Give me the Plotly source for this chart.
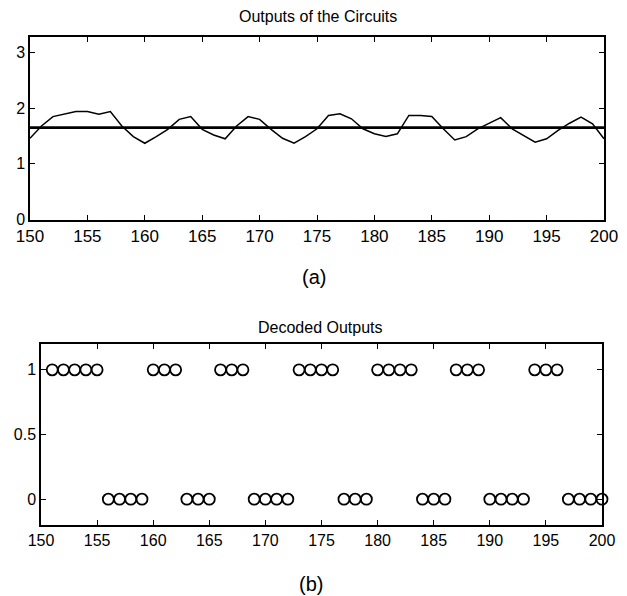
import plotly.graph_objects as go

# ---- data ----
x_circuit = list(range(150, 201))
circuit_out = [1.46, 1.68, 1.85, 1.89, 1.94, 1.94, 1.89, 1.94, 1.68, 1.49,
               1.37, 1.49, 1.62, 1.80, 1.85, 1.62, 1.52, 1.45, 1.68, 1.85,
               1.80, 1.62, 1.46, 1.37, 1.49, 1.63, 1.87, 1.90, 1.81, 1.63,
               1.54, 1.49, 1.54, 1.87, 1.87, 1.85, 1.63, 1.43, 1.49, 1.63,
               1.73, 1.83, 1.63, 1.51, 1.39, 1.45, 1.60, 1.73, 1.84, 1.72, 1.45]
threshold_x = [150, 200]
threshold_y = [1.65, 1.65]

x_decoded = list(range(151, 201))
decoded = ([1]*5 + [0]*4 + [1]*3 + [0]*3 + [1]*3 + [0]*4 + [1]*4 + [0]*3 +
           [1]*4 + [0]*3 + [1]*3 + [0]*4 + [1]*3 + [0]*4)

x_ticks = list(range(150, 201, 5))
top_yticks = [0, 1, 2, 3]
bot_yticks = [0, 0.5, 1]
bot_yticklabels = ["0", "0.5", "1"]

W, H = 627, 596
FONT = "Liberation Sans, Arial, sans-serif"

fig = go.Figure()
fig.add_trace(go.Scatter(x=x_circuit, y=circuit_out, mode="lines",
                         line=dict(color="black", width=1.5),
                         xaxis="x", yaxis="y", showlegend=False))
fig.add_trace(go.Scatter(x=threshold_x, y=threshold_y, mode="lines",
                         line=dict(color="black", width=2.8),
                         xaxis="x", yaxis="y", showlegend=False))
fig.add_trace(go.Scatter(x=x_decoded, y=decoded, mode="markers",
                         marker=dict(symbol="circle-open", size=11,
                                     color="black", line=dict(width=1.8)),
                         xaxis="x2", yaxis="y2", showlegend=False,
                         cliponaxis=False))

def px_x(p):
    return p / W

def px_y(p):
    return 1 - p / H

axis_common = dict(showgrid=False, zeroline=False, showline=True,
                   linecolor="black", linewidth=1.5, mirror="ticks",
                   ticks="inside", ticklen=5, tickwidth=1.2, tickcolor="black",
                   automargin=False)

fig.update_layout(
    template="none",
    width=W, height=H,
    margin=dict(l=0, r=0, t=0, b=0, pad=0),
    paper_bgcolor="white", plot_bgcolor="white",
    xaxis=dict(domain=[px_x(30), px_x(604)], range=[150, 200],
               tickvals=x_ticks, anchor="y",
               tickfont=dict(family=FONT, size=17, color="black"),
               **axis_common),
    yaxis=dict(domain=[px_y(219.5), px_y(37)], range=[0, 3.28],
               tickvals=top_yticks, anchor="x",
               tickfont=dict(family=FONT, size=16, color="black"),
               **axis_common),
    xaxis2=dict(domain=[px_x(41), px_x(602)], range=[150, 200],
                tickvals=x_ticks, anchor="y2",
                tickfont=dict(family=FONT, size=16, color="black"),
                **axis_common),
    yaxis2=dict(domain=[px_y(525), px_y(344)], range=[-0.2, 1.2],
                tickvals=bot_yticks, ticktext=bot_yticklabels, anchor="x2",
                tickfont=dict(family=FONT, size=16, color="black"),
                **axis_common),
    annotations=[
        dict(text="Outputs of the Circuits", x=px_x(318), y=px_y(17),
             xref="paper", yref="paper", showarrow=False,
             xanchor="center", yanchor="middle",
             font=dict(family=FONT, size=16, color="black")),
        dict(text="(a)", x=px_x(314), y=px_y(277),
             xref="paper", yref="paper", showarrow=False,
             xanchor="center", yanchor="middle",
             font=dict(family=FONT, size=20, color="black")),
        dict(text="Decoded Outputs", x=px_x(320), y=px_y(327),
             xref="paper", yref="paper", showarrow=False,
             xanchor="center", yanchor="middle",
             font=dict(family=FONT, size=16, color="black")),
        dict(text="(b)", x=px_x(311), y=px_y(584),
             xref="paper", yref="paper", showarrow=False,
             xanchor="center", yanchor="middle",
             font=dict(family=FONT, size=20, color="black")),
    ],
)

fig.write_html(
    "out.html",
    config={"displayModeBar": False},
    post_script="document.body.style.margin='0';document.body.style.padding='0';"
                "document.body.style.overflow='hidden';",
)
